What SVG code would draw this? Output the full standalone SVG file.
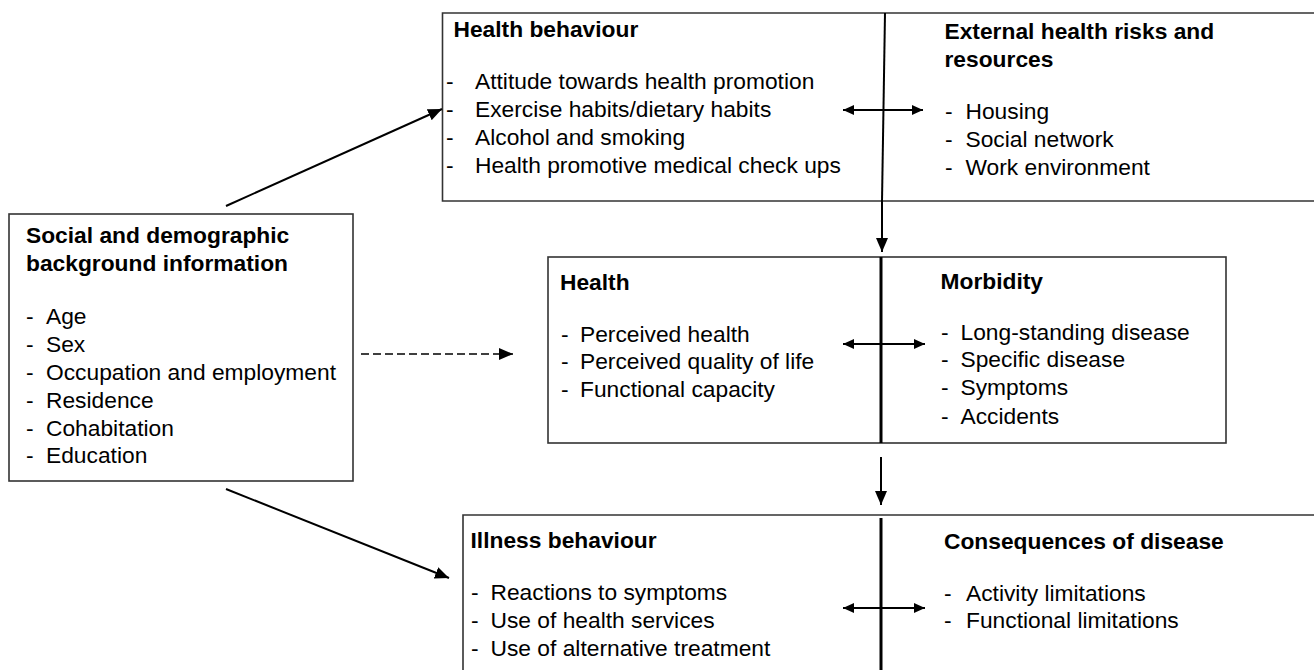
<svg xmlns="http://www.w3.org/2000/svg" width="1314" height="670" viewBox="0 0 1314 670">
<style>
  text { font-family: "Liberation Sans", Arial, sans-serif; font-size: 21.3px; fill: #000; }
  .b { font-weight: bold; }
  .box { fill: #fff; stroke: #333; stroke-width: 1.6; }
  .edge { fill: none; stroke: #333; stroke-width: 1.6; }
  .div { stroke: #000; stroke-width: 3; fill: none; }
  .divthin { stroke: #000; stroke-width: 2; fill: none; }
  .ln { stroke: #000; stroke-width: 2; fill: none; }
  .dash { stroke: #000; stroke-width: 1.5; fill: none; stroke-dasharray: 8 4; }
</style>
<defs>
  <marker id="ah" markerUnits="userSpaceOnUse" markerWidth="14" markerHeight="12" refX="14" refY="6" orient="auto-start-reverse" viewBox="0 0 14 12">
    <path d="M0,0 L14,6 L0,12 z" fill="#000"/>
  </marker>
  <marker id="ahs" markerUnits="userSpaceOnUse" markerWidth="11" markerHeight="10" refX="11" refY="5" orient="auto-start-reverse" viewBox="0 0 11 10">
    <path d="M0,0 L11,5 L0,10 z" fill="#000"/>
  </marker>
</defs>
<rect width="1314" height="670" fill="#fff"/>

<g id="node-background">
  <rect class="box" x="9" y="214" width="344" height="267"/>
  <g transform="scale(1.07 1)">
    <text class="b" x="24.3" y="243">Social and demographic</text>
    <text class="b" x="24.3" y="271">background information</text>
    <text><tspan x="24.3" y="324">-</tspan><tspan x="42.99" y="324">Age</tspan></text>
    <text><tspan x="24.3" y="352">-</tspan><tspan x="42.99" y="352">Sex</tspan></text>
    <text><tspan x="24.3" y="380">-</tspan><tspan x="42.99" y="380">Occupation and employment</tspan></text>
    <text><tspan x="24.3" y="408">-</tspan><tspan x="42.99" y="408">Residence</tspan></text>
    <text><tspan x="24.3" y="435.7">-</tspan><tspan x="42.99" y="435.7">Cohabitation</tspan></text>
    <text><tspan x="24.3" y="463.5">-</tspan><tspan x="42.99" y="463.5">Education</tspan></text>
  </g>
</g>

<g id="node-top">
  <path class="edge" d="M1316,13 H442.5 V201 H1316"/>
  <path class="divthin" d="M885,13 L882,201"/>
  <g id="node-health-behaviour" transform="scale(1.07 1)">
    <text class="b" x="423.83" y="36.7">Health behaviour</text>
    <text><tspan x="416.82" y="89.5">-</tspan><tspan x="443.93" y="89.5">Attitude towards health promotion</tspan></text>
    <text><tspan x="416.82" y="117.5">-</tspan><tspan x="443.93" y="117.5">Exercise habits/dietary habits</tspan></text>
    <text><tspan x="416.82" y="145.5">-</tspan><tspan x="443.93" y="145.5">Alcohol and smoking</tspan></text>
    <text><tspan x="416.82" y="173.5">-</tspan><tspan x="443.93" y="173.5">Health promotive medical check ups</tspan></text>
  </g>
  <g id="node-external" transform="scale(1.07 1)">
    <text class="b" x="882.71" y="39.5">External health risks and</text>
    <text class="b" x="882.71" y="67">resources</text>
    <text><tspan x="883.18" y="119.5">-</tspan><tspan x="902.34" y="119.5">Housing</tspan></text>
    <text><tspan x="883.18" y="147.5">-</tspan><tspan x="902.34" y="147.5">Social network</tspan></text>
    <text><tspan x="883.18" y="175.5">-</tspan><tspan x="902.34" y="175.5">Work environment</tspan></text>
  </g>
</g>

<g id="node-middle">
  <rect class="box" x="548" y="257" width="678" height="186"/>
  <line class="div" x1="881" y1="257" x2="881" y2="443"/>
  <g id="node-health" transform="scale(1.07 1)">
    <text class="b" x="523.36" y="290">Health</text>
    <text><tspan x="524.3" y="342">-</tspan><tspan x="542.06" y="342">Perceived health</tspan></text>
    <text><tspan x="524.3" y="369.5">-</tspan><tspan x="542.06" y="369.5">Perceived quality of life</tspan></text>
    <text><tspan x="524.3" y="397">-</tspan><tspan x="542.06" y="397">Functional capacity</tspan></text>
  </g>
  <g id="node-morbidity" transform="scale(1.07 1)">
    <text class="b" x="878.97" y="289">Morbidity</text>
    <text><tspan x="879.44" y="340">-</tspan><tspan x="897.66" y="340">Long-standing disease</tspan></text>
    <text><tspan x="879.44" y="367.5">-</tspan><tspan x="897.66" y="367.5">Specific disease</tspan></text>
    <text><tspan x="879.44" y="395.5">-</tspan><tspan x="897.66" y="395.5">Symptoms</tspan></text>
    <text><tspan x="879.44" y="424">-</tspan><tspan x="897.66" y="424">Accidents</tspan></text>
  </g>
</g>

<g id="node-bottom">
  <path class="edge" d="M1316,515 H463 V672"/>
  <line class="div" x1="881" y1="518" x2="881" y2="672"/>
  <g id="node-illness" transform="scale(1.07 1)">
    <text class="b" x="439.72" y="548">Illness behaviour</text>
    <text><tspan x="440.19" y="600">-</tspan><tspan x="458.41" y="600">Reactions to symptoms</tspan></text>
    <text><tspan x="440.19" y="628">-</tspan><tspan x="458.41" y="628">Use of health services</tspan></text>
    <text><tspan x="440.19" y="656.5">-</tspan><tspan x="458.41" y="656.5">Use of alternative treatment</tspan></text>
  </g>
  <g id="node-consequences" transform="scale(1.07 1)">
    <text class="b" x="882.24" y="549.5">Consequences of disease</text>
    <text><tspan x="882.24" y="601">-</tspan><tspan x="902.8" y="601">Activity limitations</tspan></text>
    <text><tspan x="882.24" y="628.5">-</tspan><tspan x="902.8" y="628.5">Functional limitations</tspan></text>
  </g>
</g>

<g id="connectors">
  <line class="ln" x1="226" y1="206" x2="442" y2="109" marker-end="url(#ah)"/>
  <line class="ln" x1="226" y1="489" x2="449" y2="578" marker-end="url(#ah)"/>
  <line class="dash" x1="361" y1="354" x2="513" y2="354" marker-end="url(#ah)"/>
  <line class="divthin" x1="882" y1="201" x2="882" y2="252" marker-end="url(#ah)"/>
  <line class="ln" x1="881" y1="457" x2="881" y2="505" marker-end="url(#ah)"/>
  <line class="ln" x1="843" y1="110" x2="923" y2="110" marker-start="url(#ahs)" marker-end="url(#ahs)"/>
  <line class="ln" x1="843" y1="344" x2="925" y2="344" marker-start="url(#ahs)" marker-end="url(#ahs)"/>
  <line class="ln" x1="843" y1="608" x2="925" y2="608" marker-start="url(#ahs)" marker-end="url(#ahs)"/>
</g>
</svg>
